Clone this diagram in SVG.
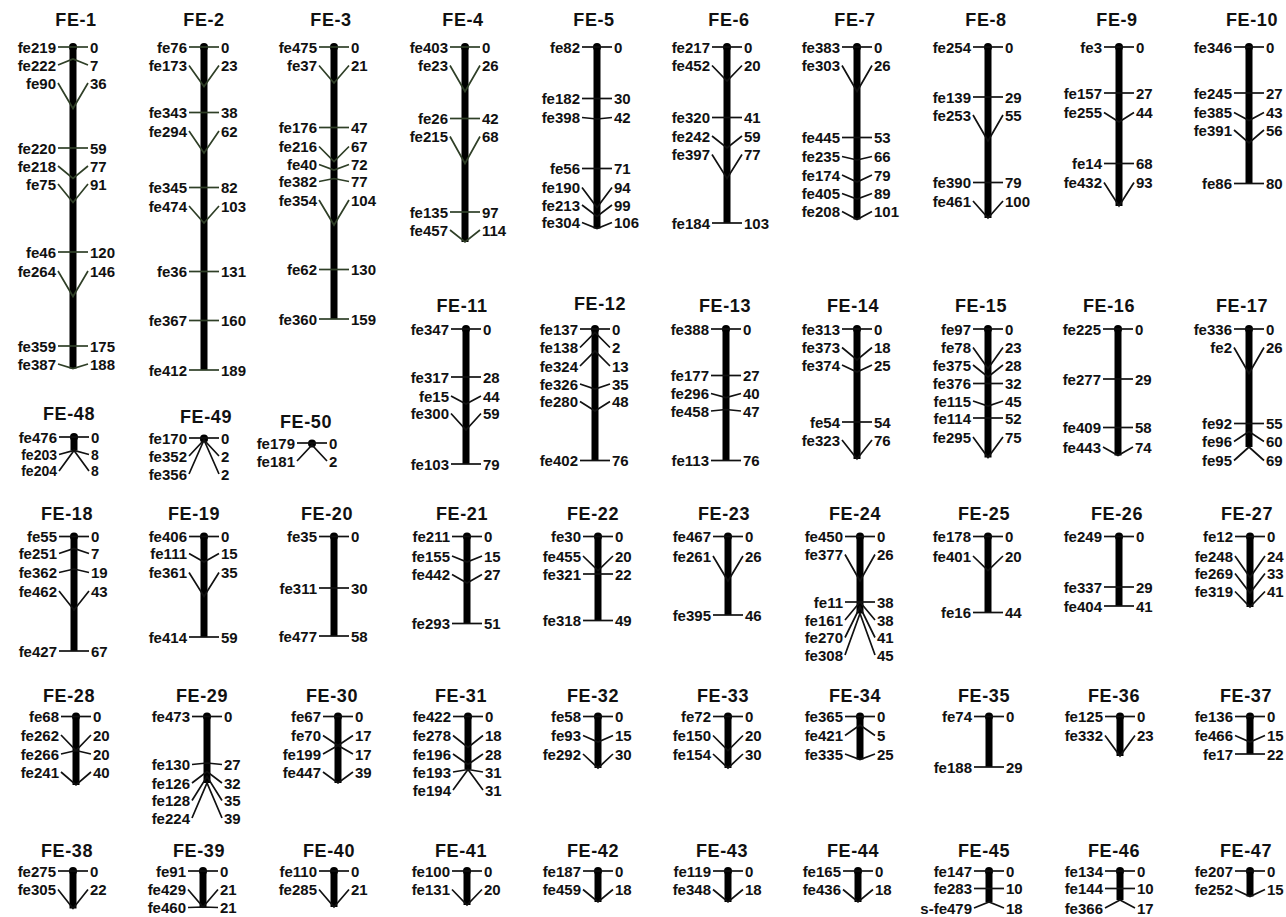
<svg xmlns="http://www.w3.org/2000/svg" width="1286" height="917" viewBox="0 0 1286 917">
<style>
.t{font:bold 18px "Liberation Sans",Arial,sans-serif;text-anchor:middle;letter-spacing:0.6px;fill:#111}
.l,.r{font:bold 15px "Liberation Sans",Arial,sans-serif;fill:#111}
.l{text-anchor:end}
.r{text-anchor:start}
.s{font-size:14px}
.bar{stroke:#000;stroke-width:7}
.ln polyline{fill:none;stroke:#111;stroke-width:1.7}
.gn polyline{stroke:#2f3f27}
</style>
<rect width="1286" height="917" fill="#fff"/>

<g id="FE-1" transform="translate(73,0)">
<text class="t" x="3" y="26">FE-1</text>
<line class="bar" x1="0" y1="47" x2="0" y2="368.5"/><circle cx="0" cy="47" r="4"/>
<g class="ln gn">
<polyline points="-15,47 0,47 15,47"/><polyline points="-15,65 0,59 15,65"/><polyline points="-15,83 0,108.5 15,83"/><polyline points="-15,148 0,148 15,148"/><polyline points="-15,166 0,178.5 15,166"/><polyline points="-15,184 0,202.5 15,184"/><polyline points="-15,252 0,252 15,252"/><polyline points="-15,271 0,296.5 15,271"/><polyline points="-15,346 0,346 15,346"/><polyline points="-15,364 0,368.5 15,364"/>
</g>
<text class="l" x="-17" y="52.5">fe219</text><text class="r" x="17" y="52.5">0</text>
<text class="l" x="-17" y="70.5">fe222</text><text class="r" x="17" y="70.5">7</text>
<text class="l" x="-17" y="88.5">fe90</text><text class="r" x="17" y="88.5">36</text>
<text class="l" x="-17" y="153.5">fe220</text><text class="r" x="17" y="153.5">59</text>
<text class="l" x="-17" y="171.5">fe218</text><text class="r" x="17" y="171.5">77</text>
<text class="l" x="-17" y="189.5">fe75</text><text class="r" x="17" y="189.5">91</text>
<text class="l" x="-17" y="257.5">fe46</text><text class="r" x="17" y="257.5">120</text>
<text class="l" x="-17" y="276.5">fe264</text><text class="r" x="17" y="276.5">146</text>
<text class="l" x="-17" y="351.5">fe359</text><text class="r" x="17" y="351.5">175</text>
<text class="l" x="-17" y="369.5">fe387</text><text class="r" x="17" y="369.5">188</text>
</g>

<g id="FE-2" transform="translate(204,0)">
<text class="t" x="0" y="26">FE-2</text>
<line class="bar" x1="0" y1="47" x2="0" y2="370"/><circle cx="0" cy="47" r="4"/>
<g class="ln gn">
<polyline points="-15,47 0,47 15,47"/><polyline points="-15,65.5 0,86.5 15,65.5"/><polyline points="-15,112.5 0,112.5 15,112.5"/><polyline points="-15,131 0,153 15,131"/><polyline points="-15,187.5 0,187.5 15,187.5"/><polyline points="-15,206 0,223 15,206"/><polyline points="-15,271.5 0,271.5 15,271.5"/><polyline points="-15,320.5 0,320.5 15,320.5"/><polyline points="-15,370 0,370 15,370"/>
</g>
<text class="l" x="-17" y="52.5">fe76</text><text class="r" x="17" y="52.5">0</text>
<text class="l" x="-17" y="71">fe173</text><text class="r" x="17" y="71">23</text>
<text class="l" x="-17" y="118">fe343</text><text class="r" x="17" y="118">38</text>
<text class="l" x="-17" y="136.5">fe294</text><text class="r" x="17" y="136.5">62</text>
<text class="l" x="-17" y="193">fe345</text><text class="r" x="17" y="193">82</text>
<text class="l" x="-17" y="211.5">fe474</text><text class="r" x="17" y="211.5">103</text>
<text class="l" x="-17" y="277">fe36</text><text class="r" x="17" y="277">131</text>
<text class="l" x="-17" y="326">fe367</text><text class="r" x="17" y="326">160</text>
<text class="l" x="-17" y="375.5">fe412</text><text class="r" x="17" y="375.5">189</text>
</g>

<g id="FE-3" transform="translate(334,0)">
<text class="t" x="-3" y="26">FE-3</text>
<line class="bar" x1="0" y1="47" x2="0" y2="319"/><circle cx="0" cy="47" r="4"/>
<g class="ln gn">
<polyline points="-15,47 0,47 15,47"/><polyline points="-15,65.5 0,83 15,65.5"/><polyline points="-15,127.5 0,127.5 15,127.5"/><polyline points="-15,146.5 0,161.5 15,146.5"/><polyline points="-15,164.5 0,170 15,164.5"/><polyline points="-15,181.5 0,178.5 15,181.5"/><polyline points="-15,200 0,225 15,200"/><polyline points="-15,269.5 0,269.5 15,269.5"/><polyline points="-15,319 0,319 15,319"/>
</g>
<text class="l" x="-17" y="52.5">fe475</text><text class="r" x="17" y="52.5">0</text>
<text class="l" x="-17" y="71">fe37</text><text class="r" x="17" y="71">21</text>
<text class="l" x="-17" y="133">fe176</text><text class="r" x="17" y="133">47</text>
<text class="l" x="-17" y="152">fe216</text><text class="r" x="17" y="152">67</text>
<text class="l" x="-17" y="170">fe40</text><text class="r" x="17" y="170">72</text>
<text class="l" x="-17" y="187">fe382</text><text class="r" x="17" y="187">77</text>
<text class="l" x="-17" y="205.5">fe354</text><text class="r" x="17" y="205.5">104</text>
<text class="l" x="-17" y="275">fe62</text><text class="r" x="17" y="275">130</text>
<text class="l" x="-17" y="324.5">fe360</text><text class="r" x="17" y="324.5">159</text>
</g>

<g id="FE-4" transform="translate(465,0)">
<text class="t" x="-2" y="26">FE-4</text>
<line class="bar" x1="0" y1="47" x2="0" y2="242"/><circle cx="0" cy="47" r="4"/>
<g class="ln gn">
<polyline points="-15,47 0,47 15,47"/><polyline points="-15,65.5 0,91.5 15,65.5"/><polyline points="-15,118.5 0,118.5 15,118.5"/><polyline points="-15,136.5 0,163.5 15,136.5"/><polyline points="-15,212 0,212 15,212"/><polyline points="-15,230 0,242 15,230"/>
</g>
<text class="l" x="-17" y="52.5">fe403</text><text class="r" x="17" y="52.5">0</text>
<text class="l" x="-17" y="71">fe23</text><text class="r" x="17" y="71">26</text>
<text class="l" x="-17" y="124">fe26</text><text class="r" x="17" y="124">42</text>
<text class="l" x="-17" y="142">fe215</text><text class="r" x="17" y="142">68</text>
<text class="l" x="-17" y="217.5">fe135</text><text class="r" x="17" y="217.5">97</text>
<text class="l" x="-17" y="235.5">fe457</text><text class="r" x="17" y="235.5">114</text>
</g>

<g id="FE-5" transform="translate(597,0)">
<text class="t" x="-3" y="26">FE-5</text>
<line class="bar" x1="0" y1="47" x2="0" y2="228.5"/><circle cx="0" cy="47" r="4"/>
<g class="ln">
<polyline points="-15,47 0,47 15,47"/><polyline points="-15,98.5 0,98.5 15,98.5"/><polyline points="-15,117.5 0,119 15,117.5"/><polyline points="-15,168.5 0,168.5 15,168.5"/><polyline points="-15,187.5 0,207.5 15,187.5"/><polyline points="-15,205 0,216.5 15,205"/><polyline points="-15,222.5 0,228.5 15,222.5"/>
</g>
<text class="l" x="-17" y="52.5">fe82</text><text class="r" x="17" y="52.5">0</text>
<text class="l" x="-17" y="104">fe182</text><text class="r" x="17" y="104">30</text>
<text class="l" x="-17" y="123">fe398</text><text class="r" x="17" y="123">42</text>
<text class="l" x="-17" y="174">fe56</text><text class="r" x="17" y="174">71</text>
<text class="l" x="-17" y="193">fe190</text><text class="r" x="17" y="193">94</text>
<text class="l" x="-17" y="210.5">fe213</text><text class="r" x="17" y="210.5">99</text>
<text class="l" x="-17" y="228">fe304</text><text class="r" x="17" y="228">106</text>
</g>

<g id="FE-6" transform="translate(727,0)">
<text class="t" x="2" y="26">FE-6</text>
<line class="bar" x1="0" y1="47" x2="0" y2="223"/><circle cx="0" cy="47" r="4"/>
<g class="ln">
<polyline points="-15,47 0,47 15,47"/><polyline points="-15,65.5 0,81 15,65.5"/><polyline points="-15,117.5 0,117.5 15,117.5"/><polyline points="-15,136 0,148 15,136"/><polyline points="-15,154.5 0,178.5 15,154.5"/><polyline points="-15,223 0,223 15,223"/>
</g>
<text class="l" x="-17" y="52.5">fe217</text><text class="r" x="17" y="52.5">0</text>
<text class="l" x="-17" y="71">fe452</text><text class="r" x="17" y="71">20</text>
<text class="l" x="-17" y="123">fe320</text><text class="r" x="17" y="123">41</text>
<text class="l" x="-17" y="141.5">fe242</text><text class="r" x="17" y="141.5">59</text>
<text class="l" x="-17" y="160">fe397</text><text class="r" x="17" y="160">77</text>
<text class="l" x="-17" y="228.5">fe184</text><text class="r" x="17" y="228.5">103</text>
</g>

<g id="FE-7" transform="translate(857,0)">
<text class="t" x="-2" y="26">FE-7</text>
<line class="bar" x1="0" y1="47" x2="0" y2="219.5"/><circle cx="0" cy="47" r="4"/>
<g class="ln">
<polyline points="-15,47 0,47 15,47"/><polyline points="-15,65.5 0,91.5 15,65.5"/><polyline points="-15,137.5 0,137.5 15,137.5"/><polyline points="-15,156.5 0,160 15,156.5"/><polyline points="-15,175 0,182 15,175"/><polyline points="-15,193.5 0,199 15,193.5"/><polyline points="-15,211.5 0,219.5 15,211.5"/>
</g>
<text class="l" x="-17" y="52.5">fe383</text><text class="r" x="17" y="52.5">0</text>
<text class="l" x="-17" y="71">fe303</text><text class="r" x="17" y="71">26</text>
<text class="l" x="-17" y="143">fe445</text><text class="r" x="17" y="143">53</text>
<text class="l" x="-17" y="162">fe235</text><text class="r" x="17" y="162">66</text>
<text class="l" x="-17" y="180.5">fe174</text><text class="r" x="17" y="180.5">79</text>
<text class="l" x="-17" y="199">fe405</text><text class="r" x="17" y="199">89</text>
<text class="l" x="-17" y="217">fe208</text><text class="r" x="17" y="217">101</text>
</g>

<g id="FE-8" transform="translate(988,0)">
<text class="t" x="-2" y="26">FE-8</text>
<line class="bar" x1="0" y1="47" x2="0" y2="218"/><circle cx="0" cy="47" r="4"/>
<g class="ln">
<polyline points="-15,47 0,47 15,47"/><polyline points="-15,97 0,97 15,97"/><polyline points="-15,115 0,141 15,115"/><polyline points="-15,182.5 0,182.5 15,182.5"/><polyline points="-15,201 0,218 15,201"/>
</g>
<text class="l" x="-17" y="52.5">fe254</text><text class="r" x="17" y="52.5">0</text>
<text class="l" x="-17" y="102.5">fe139</text><text class="r" x="17" y="102.5">29</text>
<text class="l" x="-17" y="120.5">fe253</text><text class="r" x="17" y="120.5">55</text>
<text class="l" x="-17" y="188">fe390</text><text class="r" x="17" y="188">79</text>
<text class="l" x="-17" y="206.5">fe461</text><text class="r" x="17" y="206.5">100</text>
</g>

<g id="FE-9" transform="translate(1119,0)">
<text class="t" x="-2" y="26">FE-9</text>
<line class="bar" x1="0" y1="47" x2="0" y2="206"/><circle cx="0" cy="47" r="4"/>
<g class="ln">
<polyline points="-15,47 0,47 15,47"/><polyline points="-15,93 0,93 15,93"/><polyline points="-15,112.5 0,122 15,112.5"/><polyline points="-15,163.5 0,163.5 15,163.5"/><polyline points="-15,182.5 0,206 15,182.5"/>
</g>
<text class="l" x="-17" y="52.5">fe3</text><text class="r" x="17" y="52.5">0</text>
<text class="l" x="-17" y="98.5">fe157</text><text class="r" x="17" y="98.5">27</text>
<text class="l" x="-17" y="118">fe255</text><text class="r" x="17" y="118">44</text>
<text class="l" x="-17" y="169">fe14</text><text class="r" x="17" y="169">68</text>
<text class="l" x="-17" y="188">fe432</text><text class="r" x="17" y="188">93</text>
</g>

<g id="FE-10" transform="translate(1249,0)">
<text class="t" x="3" y="26">FE-10</text>
<line class="bar" x1="0" y1="47" x2="0" y2="183.5"/><circle cx="0" cy="47" r="4"/>
<g class="ln">
<polyline points="-15,47 0,47 15,47"/><polyline points="-15,93 0,93 15,93"/><polyline points="-15,112.5 0,120.5 15,112.5"/><polyline points="-15,130 0,143 15,130"/><polyline points="-15,183.5 0,183.5 15,183.5"/>
</g>
<text class="l" x="-17" y="52.5">fe346</text><text class="r" x="17" y="52.5">0</text>
<text class="l" x="-17" y="98.5">fe245</text><text class="r" x="17" y="98.5">27</text>
<text class="l" x="-17" y="118">fe385</text><text class="r" x="17" y="118">43</text>
<text class="l" x="-17" y="135.5">fe391</text><text class="r" x="17" y="135.5">56</text>
<text class="l" x="-17" y="189">fe86</text><text class="r" x="17" y="189">80</text>
</g>

<g id="FE-11" transform="translate(466,0)">
<text class="t" x="-4" y="311.5">FE-11</text>
<line class="bar" x1="0" y1="329" x2="0" y2="464"/><circle cx="0" cy="329" r="4"/>
<g class="ln">
<polyline points="-15,329 0,329 15,329"/><polyline points="-15,377 0,377 15,377"/><polyline points="-15,396 0,404 15,396"/><polyline points="-15,413.5 0,430 15,413.5"/><polyline points="-15,464 0,464 15,464"/>
</g>
<text class="l" x="-17" y="334.5">fe347</text><text class="r" x="17" y="334.5">0</text>
<text class="l" x="-17" y="382.5">fe317</text><text class="r" x="17" y="382.5">28</text>
<text class="l" x="-17" y="401.5">fe15</text><text class="r" x="17" y="401.5">44</text>
<text class="l" x="-17" y="419">fe300</text><text class="r" x="17" y="419">59</text>
<text class="l" x="-17" y="469.5">fe103</text><text class="r" x="17" y="469.5">79</text>
</g>

<g id="FE-12" transform="translate(595,0)">
<text class="t" x="5" y="309.5">FE-12</text>
<line class="bar" x1="0" y1="329" x2="0" y2="460.5"/><circle cx="0" cy="329" r="4"/>
<g class="ln">
<polyline points="-15,329 0,329 15,329"/><polyline points="-15,347.5 0,332.5 15,347.5"/><polyline points="-15,366 0,351 15,366"/><polyline points="-15,384 0,389 15,384"/><polyline points="-15,401.5 0,411 15,401.5"/><polyline points="-15,460.5 0,460.5 15,460.5"/>
</g>
<text class="l" x="-17" y="334.5">fe137</text><text class="r" x="17" y="334.5">0</text>
<text class="l" x="-17" y="353">fe138</text><text class="r" x="17" y="353">2</text>
<text class="l" x="-17" y="371.5">fe324</text><text class="r" x="17" y="371.5">13</text>
<text class="l" x="-17" y="389.5">fe326</text><text class="r" x="17" y="389.5">35</text>
<text class="l" x="-17" y="407">fe280</text><text class="r" x="17" y="407">48</text>
<text class="l" x="-17" y="466">fe402</text><text class="r" x="17" y="466">76</text>
</g>

<g id="FE-13" transform="translate(726,0)">
<text class="t" x="-1" y="311.5">FE-13</text>
<line class="bar" x1="0" y1="329" x2="0" y2="460.5"/><circle cx="0" cy="329" r="4"/>
<g class="ln">
<polyline points="-15,329 0,329 15,329"/><polyline points="-15,375.5 0,375.5 15,375.5"/><polyline points="-15,393.5 0,397.5 15,393.5"/><polyline points="-15,411 0,409.5 15,411"/><polyline points="-15,460.5 0,460.5 15,460.5"/>
</g>
<text class="l" x="-17" y="334.5">fe388</text><text class="r" x="17" y="334.5">0</text>
<text class="l" x="-17" y="381">fe177</text><text class="r" x="17" y="381">27</text>
<text class="l" x="-17" y="399">fe296</text><text class="r" x="17" y="399">40</text>
<text class="l" x="-17" y="416.5">fe458</text><text class="r" x="17" y="416.5">47</text>
<text class="l" x="-17" y="466">fe113</text><text class="r" x="17" y="466">76</text>
</g>

<g id="FE-14" transform="translate(857,0)">
<text class="t" x="-4" y="311.5">FE-14</text>
<line class="bar" x1="0" y1="329" x2="0" y2="459"/><circle cx="0" cy="329" r="4"/>
<g class="ln">
<polyline points="-15,329 0,329 15,329"/><polyline points="-15,347.5 0,360 15,347.5"/><polyline points="-15,365 0,372 15,365"/><polyline points="-15,422 0,422 15,422"/><polyline points="-15,440 0,459 15,440"/>
</g>
<text class="l" x="-17" y="334.5">fe313</text><text class="r" x="17" y="334.5">0</text>
<text class="l" x="-17" y="353">fe373</text><text class="r" x="17" y="353">18</text>
<text class="l" x="-17" y="370.5">fe374</text><text class="r" x="17" y="370.5">25</text>
<text class="l" x="-17" y="427.5">fe54</text><text class="r" x="17" y="427.5">54</text>
<text class="l" x="-17" y="445.5">fe323</text><text class="r" x="17" y="445.5">76</text>
</g>

<g id="FE-15" transform="translate(988,0)">
<text class="t" x="-7" y="311.5">FE-15</text>
<line class="bar" x1="0" y1="329" x2="0" y2="457.5"/><circle cx="0" cy="329" r="4"/>
<g class="ln">
<polyline points="-15,329 0,329 15,329"/><polyline points="-15,347.5 0,368.5 15,347.5"/><polyline points="-15,365 0,377 15,365"/><polyline points="-15,383.5 0,383.5 15,383.5"/><polyline points="-15,401 0,406 15,401"/><polyline points="-15,418 0,418 15,418"/><polyline points="-15,437 0,457.5 15,437"/>
</g>
<text class="l" x="-17" y="334.5">fe97</text><text class="r" x="17" y="334.5">0</text>
<text class="l" x="-17" y="353">fe78</text><text class="r" x="17" y="353">23</text>
<text class="l" x="-17" y="370.5">fe375</text><text class="r" x="17" y="370.5">28</text>
<text class="l" x="-17" y="389">fe376</text><text class="r" x="17" y="389">32</text>
<text class="l" x="-17" y="406.5">fe115</text><text class="r" x="17" y="406.5">45</text>
<text class="l" x="-17" y="423.5">fe114</text><text class="r" x="17" y="423.5">52</text>
<text class="l" x="-17" y="442.5">fe295</text><text class="r" x="17" y="442.5">75</text>
</g>

<g id="FE-16" transform="translate(1118,0)">
<text class="t" x="-9" y="311.5">FE-16</text>
<line class="bar" x1="0" y1="329" x2="0" y2="455.5"/><circle cx="0" cy="329" r="4"/>
<g class="ln">
<polyline points="-15,329 0,329 15,329"/><polyline points="-15,379 0,379 15,379"/><polyline points="-15,427.5 0,427.5 15,427.5"/><polyline points="-15,447 0,455.5 15,447"/>
</g>
<text class="l" x="-17" y="334.5">fe225</text><text class="r" x="17" y="334.5">0</text>
<text class="l" x="-17" y="384.5">fe277</text><text class="r" x="17" y="384.5">29</text>
<text class="l" x="-17" y="433">fe409</text><text class="r" x="17" y="433">58</text>
<text class="l" x="-17" y="452.5">fe443</text><text class="r" x="17" y="452.5">74</text>
</g>

<g id="FE-17" transform="translate(1249,0)">
<text class="t" x="-7" y="311.5">FE-17</text>
<line class="bar" x1="0" y1="329" x2="0" y2="447"/><circle cx="0" cy="329" r="4"/>
<g class="ln">
<polyline points="-15,329 0,329 15,329"/><polyline points="-15,347.5 0,373.5 15,347.5"/><polyline points="-15,423.5 0,423.5 15,423.5"/><polyline points="-15,441.5 0,431.5 15,441.5"/><polyline points="-15,460.5 0,447 15,460.5"/>
</g>
<text class="l" x="-17" y="334.5">fe336</text><text class="r" x="17" y="334.5">0</text>
<text class="l" x="-17" y="353">fe2</text><text class="r" x="17" y="353">26</text>
<text class="l" x="-17" y="429">fe92</text><text class="r" x="17" y="429">55</text>
<text class="l" x="-17" y="447">fe96</text><text class="r" x="17" y="447">60</text>
<text class="l" x="-17" y="466">fe95</text><text class="r" x="17" y="466">69</text>
</g>

<g id="FE-48" transform="translate(74,0)">
<text class="t" x="-5" y="419.5">FE-48</text>
<line class="bar" x1="0" y1="437" x2="0" y2="450.5"/><circle cx="0" cy="437" r="4"/>
<g class="ln">
<polyline points="-15,437 0,437 15,437"/><polyline points="-15,454.5 0,450.5 15,454.5"/><polyline points="-15,471 0,450.5 15,471"/>
</g>
<text class="l" x="-17" y="442.5">fe476</text><text class="r" x="17" y="442.5">0</text>
<text class="l s" x="-17" y="459.5">fe203</text><text class="r s" x="17" y="459.5">8</text>
<text class="l s" x="-17" y="476">fe204</text><text class="r s" x="17" y="476">8</text>
</g>

<g id="FE-49" transform="translate(204,0)">
<text class="t" x="2" y="423">FE-49</text>
<line class="bar" x1="0" y1="438" x2="0" y2="441.5"/><circle cx="0" cy="438.5" r="4"/>
<g class="ln">
<polyline points="-15,438 0,438 15,438"/><polyline points="-15,456 0,440 15,456"/><polyline points="-15,474 0,440 15,474"/>
</g>
<text class="l" x="-17" y="443.5">fe170</text><text class="r" x="17" y="443.5">0</text>
<text class="l" x="-17" y="461.5">fe352</text><text class="r" x="17" y="461.5">2</text>
<text class="l" x="-17" y="479.5">fe356</text><text class="r" x="17" y="479.5">2</text>
</g>

<g id="FE-50" transform="translate(312,0)">
<text class="t" x="-6" y="428">FE-50</text>
<circle cx="0" cy="443.5" r="4"/>
<g class="ln">
<polyline points="-15,443 0,443 15,443"/><polyline points="-15,461 0,445 15,461"/>
</g>
<text class="l" x="-17" y="448.5">fe179</text><text class="r" x="17" y="448.5">0</text>
<text class="l" x="-17" y="466.5">fe181</text><text class="r" x="17" y="466.5">2</text>
</g>

<g id="FE-18" transform="translate(74,0)">
<text class="t" x="-7" y="519.5">FE-18</text>
<line class="bar" x1="0" y1="536.5" x2="0" y2="651"/><circle cx="0" cy="536.5" r="4"/>
<g class="ln">
<polyline points="-15,536.5 0,536.5 15,536.5"/><polyline points="-15,553.5 0,548.5 15,553.5"/><polyline points="-15,572.5 0,569 15,572.5"/><polyline points="-15,591 0,610 15,591"/><polyline points="-15,651 0,651 15,651"/>
</g>
<text class="l" x="-17" y="542">fe55</text><text class="r" x="17" y="542">0</text>
<text class="l" x="-17" y="559">fe251</text><text class="r" x="17" y="559">7</text>
<text class="l" x="-17" y="578">fe362</text><text class="r" x="17" y="578">19</text>
<text class="l" x="-17" y="596.5">fe462</text><text class="r" x="17" y="596.5">43</text>
<text class="l" x="-17" y="656.5">fe427</text><text class="r" x="17" y="656.5">67</text>
</g>

<g id="FE-19" transform="translate(204,0)">
<text class="t" x="-10" y="519.5">FE-19</text>
<line class="bar" x1="0" y1="536.5" x2="0" y2="637"/><circle cx="0" cy="536.5" r="4"/>
<g class="ln">
<polyline points="-15,536.5 0,536.5 15,536.5"/><polyline points="-15,553.5 0,562 15,553.5"/><polyline points="-15,572.5 0,596.5 15,572.5"/><polyline points="-15,637 0,637 15,637"/>
</g>
<text class="l" x="-17" y="542">fe406</text><text class="r" x="17" y="542">0</text>
<text class="l" x="-17" y="559">fe111</text><text class="r" x="17" y="559">15</text>
<text class="l" x="-17" y="578">fe361</text><text class="r" x="17" y="578">35</text>
<text class="l" x="-17" y="642.5">fe414</text><text class="r" x="17" y="642.5">59</text>
</g>

<g id="FE-20" transform="translate(334,0)">
<text class="t" x="-7" y="519.5">FE-20</text>
<line class="bar" x1="0" y1="536.5" x2="0" y2="636"/><circle cx="0" cy="536.5" r="4"/>
<g class="ln">
<polyline points="-15,536.5 0,536.5 15,536.5"/><polyline points="-15,588 0,588 15,588"/><polyline points="-15,636 0,636 15,636"/>
</g>
<text class="l" x="-17" y="542">fe35</text><text class="r" x="17" y="542">0</text>
<text class="l" x="-17" y="593.5">fe311</text><text class="r" x="17" y="593.5">30</text>
<text class="l" x="-17" y="641.5">fe477</text><text class="r" x="17" y="641.5">58</text>
</g>

<g id="FE-21" transform="translate(467,0)">
<text class="t" x="-5" y="519.5">FE-21</text>
<line class="bar" x1="0" y1="536.5" x2="0" y2="623.5"/><circle cx="0" cy="536.5" r="4"/>
<g class="ln">
<polyline points="-15,536.5 0,536.5 15,536.5"/><polyline points="-15,556 0,562 15,556"/><polyline points="-15,574.5 0,583 15,574.5"/><polyline points="-15,623.5 0,623.5 15,623.5"/>
</g>
<text class="l" x="-17" y="542">fe211</text><text class="r" x="17" y="542">0</text>
<text class="l" x="-17" y="561.5">fe155</text><text class="r" x="17" y="561.5">15</text>
<text class="l" x="-17" y="580">fe442</text><text class="r" x="17" y="580">27</text>
<text class="l" x="-17" y="629">fe293</text><text class="r" x="17" y="629">51</text>
</g>

<g id="FE-22" transform="translate(598,0)">
<text class="t" x="-5" y="519.5">FE-22</text>
<line class="bar" x1="0" y1="536.5" x2="0" y2="620.5"/><circle cx="0" cy="536.5" r="4"/>
<g class="ln">
<polyline points="-15,536.5 0,536.5 15,536.5"/><polyline points="-15,556 0,570.5 15,556"/><polyline points="-15,574 0,574 15,574"/><polyline points="-15,620.5 0,620.5 15,620.5"/>
</g>
<text class="l" x="-17" y="542">fe30</text><text class="r" x="17" y="542">0</text>
<text class="l" x="-17" y="561.5">fe455</text><text class="r" x="17" y="561.5">20</text>
<text class="l" x="-17" y="579.5">fe321</text><text class="r" x="17" y="579.5">22</text>
<text class="l" x="-17" y="626">fe318</text><text class="r" x="17" y="626">49</text>
</g>

<g id="FE-23" transform="translate(728,0)">
<text class="t" x="-4" y="519.5">FE-23</text>
<line class="bar" x1="0" y1="536.5" x2="0" y2="615"/><circle cx="0" cy="536.5" r="4"/>
<g class="ln">
<polyline points="-15,536.5 0,536.5 15,536.5"/><polyline points="-15,556 0,581 15,556"/><polyline points="-15,615 0,615 15,615"/>
</g>
<text class="l" x="-17" y="542">fe467</text><text class="r" x="17" y="542">0</text>
<text class="l" x="-17" y="561.5">fe261</text><text class="r" x="17" y="561.5">26</text>
<text class="l" x="-17" y="620.5">fe395</text><text class="r" x="17" y="620.5">46</text>
</g>

<g id="FE-24" transform="translate(860,0)">
<text class="t" x="-5" y="519.5">FE-24</text>
<line class="bar" x1="0" y1="536.5" x2="0" y2="613.5"/><circle cx="0" cy="536.5" r="4"/>
<g class="ln">
<polyline points="-15,536.5 0,536.5 15,536.5"/><polyline points="-15,554.5 0,581 15,554.5"/><polyline points="-15,602 0,602 15,602"/><polyline points="-15,620 0,602 15,620"/><polyline points="-15,637.5 0,607 15,637.5"/><polyline points="-15,655 0,613.5 15,655"/>
</g>
<text class="l" x="-17" y="542">fe450</text><text class="r" x="17" y="542">0</text>
<text class="l" x="-17" y="560">fe377</text><text class="r" x="17" y="560">26</text>
<text class="l" x="-17" y="607.5">fe11</text><text class="r" x="17" y="607.5">38</text>
<text class="l" x="-17" y="625.5">fe161</text><text class="r" x="17" y="625.5">38</text>
<text class="l" x="-17" y="643">fe270</text><text class="r" x="17" y="643">41</text>
<text class="l" x="-17" y="660.5">fe308</text><text class="r" x="17" y="660.5">45</text>
</g>

<g id="FE-25" transform="translate(988,0)">
<text class="t" x="-4" y="519.5">FE-25</text>
<line class="bar" x1="0" y1="536.5" x2="0" y2="612.5"/><circle cx="0" cy="536.5" r="4"/>
<g class="ln">
<polyline points="-15,536.5 0,536.5 15,536.5"/><polyline points="-15,556 0,570.5 15,556"/><polyline points="-15,612.5 0,612.5 15,612.5"/>
</g>
<text class="l" x="-17" y="542">fe178</text><text class="r" x="17" y="542">0</text>
<text class="l" x="-17" y="561.5">fe401</text><text class="r" x="17" y="561.5">20</text>
<text class="l" x="-17" y="618">fe16</text><text class="r" x="17" y="618">44</text>
</g>

<g id="FE-26" transform="translate(1119,0)">
<text class="t" x="-2" y="519.5">FE-26</text>
<line class="bar" x1="0" y1="536.5" x2="0" y2="606"/><circle cx="0" cy="536.5" r="4"/>
<g class="ln">
<polyline points="-15,536.5 0,536.5 15,536.5"/><polyline points="-15,587 0,587 15,587"/><polyline points="-15,606 0,606 15,606"/>
</g>
<text class="l" x="-17" y="542">fe249</text><text class="r" x="17" y="542">0</text>
<text class="l" x="-17" y="592.5">fe337</text><text class="r" x="17" y="592.5">29</text>
<text class="l" x="-17" y="611.5">fe404</text><text class="r" x="17" y="611.5">41</text>
</g>

<g id="FE-27" transform="translate(1250,0)">
<text class="t" x="-3" y="519.5">FE-27</text>
<line class="bar" x1="0" y1="536.5" x2="0" y2="607"/><circle cx="0" cy="536.5" r="4"/>
<g class="ln">
<polyline points="-15,536.5 0,536.5 15,536.5"/><polyline points="-15,556 0,577.5 15,556"/><polyline points="-15,573.5 0,593 15,573.5"/><polyline points="-15,591.5 0,607 15,591.5"/>
</g>
<text class="l" x="-17" y="542">fe12</text><text class="r" x="17" y="542">0</text>
<text class="l" x="-17" y="561.5">fe248</text><text class="r" x="17" y="561.5">24</text>
<text class="l" x="-17" y="579">fe269</text><text class="r" x="17" y="579">33</text>
<text class="l" x="-17" y="597">fe319</text><text class="r" x="17" y="597">41</text>
</g>

<g id="FE-28" transform="translate(76,0)">
<text class="t" x="-7" y="701.5">FE-28</text>
<line class="bar" x1="0" y1="716.5" x2="0" y2="785"/><circle cx="0" cy="716.5" r="4"/>
<g class="ln">
<polyline points="-15,716.5 0,716.5 15,716.5"/><polyline points="-15,735 0,750.5 15,735"/><polyline points="-15,754 0,750.5 15,754"/><polyline points="-15,772 0,785 15,772"/>
</g>
<text class="l" x="-17" y="722">fe68</text><text class="r" x="17" y="722">0</text>
<text class="l" x="-17" y="740.5">fe262</text><text class="r" x="17" y="740.5">20</text>
<text class="l" x="-17" y="759.5">fe266</text><text class="r" x="17" y="759.5">20</text>
<text class="l" x="-17" y="777.5">fe241</text><text class="r" x="17" y="777.5">40</text>
</g>

<g id="FE-29" transform="translate(207,0)">
<text class="t" x="-5" y="701.5">FE-29</text>
<line class="bar" x1="0" y1="716.5" x2="0" y2="783"/><circle cx="0" cy="716.5" r="4"/>
<g class="ln">
<polyline points="-15,716.5 0,716.5 15,716.5"/><polyline points="-15,764.5 0,763 15,764.5"/><polyline points="-15,783 0,771.5 15,783"/><polyline points="-15,800.5 0,776.5 15,800.5"/><polyline points="-15,818 0,783 15,818"/>
</g>
<text class="l" x="-17" y="722">fe473</text><text class="r" x="17" y="722">0</text>
<text class="l" x="-17" y="770">fe130</text><text class="r" x="17" y="770">27</text>
<text class="l" x="-17" y="788.5">fe126</text><text class="r" x="17" y="788.5">32</text>
<text class="l" x="-17" y="806">fe128</text><text class="r" x="17" y="806">35</text>
<text class="l" x="-17" y="823.5">fe224</text><text class="r" x="17" y="823.5">39</text>
</g>

<g id="FE-30" transform="translate(338,0)">
<text class="t" x="-6" y="701.5">FE-30</text>
<line class="bar" x1="0" y1="716.5" x2="0" y2="783"/><circle cx="0" cy="716.5" r="4"/>
<g class="ln">
<polyline points="-15,716.5 0,716.5 15,716.5"/><polyline points="-15,735.5 0,745.5 15,754"/><polyline points="-15,754 0,745.5 15,735.5"/><polyline points="-15,772 0,783 15,772"/>
</g>
<text class="l" x="-17" y="722">fe67</text><text class="r" x="17" y="722">0</text>
<text class="l" x="-17" y="741">fe70</text><text class="r" x="17" y="741">17</text>
<text class="l" x="-17" y="759.5">fe199</text><text class="r" x="17" y="759.5">17</text>
<text class="l" x="-17" y="777.5">fe447</text><text class="r" x="17" y="777.5">39</text>
</g>

<g id="FE-31" transform="translate(468,0)">
<text class="t" x="-7" y="701.5">FE-31</text>
<line class="bar" x1="0" y1="716.5" x2="0" y2="769.5"/><circle cx="0" cy="716.5" r="4"/>
<g class="ln">
<polyline points="-15,716.5 0,716.5 15,716.5"/><polyline points="-15,735.5 0,747.5 15,735.5"/><polyline points="-15,754 0,764.5 15,754"/><polyline points="-15,772 0,769.5 15,772"/><polyline points="-15,790 0,769.5 15,790"/>
</g>
<text class="l" x="-17" y="722">fe422</text><text class="r" x="17" y="722">0</text>
<text class="l" x="-17" y="741">fe278</text><text class="r" x="17" y="741">18</text>
<text class="l" x="-17" y="759.5">fe196</text><text class="r" x="17" y="759.5">28</text>
<text class="l" x="-17" y="777.5">fe193</text><text class="r" x="17" y="777.5">31</text>
<text class="l" x="-17" y="795.5">fe194</text><text class="r" x="17" y="795.5">31</text>
</g>

<g id="FE-32" transform="translate(598,0)">
<text class="t" x="-5" y="701.5">FE-32</text>
<line class="bar" x1="0" y1="716.5" x2="0" y2="768"/><circle cx="0" cy="716.5" r="4"/>
<g class="ln">
<polyline points="-15,716.5 0,716.5 15,716.5"/><polyline points="-15,735.5 0,742 15,735.5"/><polyline points="-15,754 0,768 15,754"/>
</g>
<text class="l" x="-17" y="722">fe58</text><text class="r" x="17" y="722">0</text>
<text class="l" x="-17" y="741">fe93</text><text class="r" x="17" y="741">15</text>
<text class="l" x="-17" y="759.5">fe292</text><text class="r" x="17" y="759.5">30</text>
</g>

<g id="FE-33" transform="translate(728,0)">
<text class="t" x="-5" y="701.5">FE-33</text>
<line class="bar" x1="0" y1="716.5" x2="0" y2="768"/><circle cx="0" cy="716.5" r="4"/>
<g class="ln">
<polyline points="-15,716.5 0,716.5 15,716.5"/><polyline points="-15,735.5 0,750.5 15,735.5"/><polyline points="-15,754 0,768 15,754"/>
</g>
<text class="l" x="-17" y="722">fe72</text><text class="r" x="17" y="722">0</text>
<text class="l" x="-17" y="741">fe150</text><text class="r" x="17" y="741">20</text>
<text class="l" x="-17" y="759.5">fe154</text><text class="r" x="17" y="759.5">30</text>
</g>

<g id="FE-34" transform="translate(860,0)">
<text class="t" x="-5" y="701.5">FE-34</text>
<line class="bar" x1="0" y1="716.5" x2="0" y2="759.5"/><circle cx="0" cy="716.5" r="4"/>
<g class="ln">
<polyline points="-15,716.5 0,716.5 15,716.5"/><polyline points="-15,735.5 0,725 15,735.5"/><polyline points="-15,754 0,759.5 15,754"/>
</g>
<text class="l" x="-17" y="722">fe365</text><text class="r" x="17" y="722">0</text>
<text class="l" x="-17" y="741">fe421</text><text class="r" x="17" y="741">5</text>
<text class="l" x="-17" y="759.5">fe335</text><text class="r" x="17" y="759.5">25</text>
</g>

<g id="FE-35" transform="translate(989,0)">
<text class="t" x="-5" y="701.5">FE-35</text>
<line class="bar" x1="0" y1="716.5" x2="0" y2="767"/><circle cx="0" cy="716.5" r="4"/>
<g class="ln">
<polyline points="-15,716.5 0,716.5 15,716.5"/><polyline points="-15,767 0,767 15,767"/>
</g>
<text class="l" x="-17" y="722">fe74</text><text class="r" x="17" y="722">0</text>
<text class="l" x="-17" y="772.5">fe188</text><text class="r" x="17" y="772.5">29</text>
</g>

<g id="FE-36" transform="translate(1120,0)">
<text class="t" x="-6" y="701.5">FE-36</text>
<line class="bar" x1="0" y1="716.5" x2="0" y2="756"/><circle cx="0" cy="716.5" r="4"/>
<g class="ln">
<polyline points="-15,716.5 0,716.5 15,716.5"/><polyline points="-15,735.5 0,756 15,735.5"/>
</g>
<text class="l" x="-17" y="722">fe125</text><text class="r" x="17" y="722">0</text>
<text class="l" x="-17" y="741">fe332</text><text class="r" x="17" y="741">23</text>
</g>

<g id="FE-37" transform="translate(1250,0)">
<text class="t" x="-4" y="701.5">FE-37</text>
<line class="bar" x1="0" y1="716.5" x2="0" y2="754"/><circle cx="0" cy="716.5" r="4"/>
<g class="ln">
<polyline points="-15,716.5 0,716.5 15,716.5"/><polyline points="-15,735.5 0,742 15,735.5"/><polyline points="-15,754 0,754 15,754"/>
</g>
<text class="l" x="-17" y="722">fe136</text><text class="r" x="17" y="722">0</text>
<text class="l" x="-17" y="741">fe466</text><text class="r" x="17" y="741">15</text>
<text class="l" x="-17" y="759.5">fe17</text><text class="r" x="17" y="759.5">22</text>
</g>

<g id="FE-38" transform="translate(73,0)">
<text class="t" x="-6" y="856.5">FE-38</text>
<line class="bar" x1="0" y1="871" x2="0" y2="908.5"/><circle cx="0" cy="871" r="4"/>
<g class="ln">
<polyline points="-15,871 0,871 15,871"/><polyline points="-15,889.5 0,908.5 15,889.5"/>
</g>
<text class="l" x="-17" y="876.5">fe275</text><text class="r" x="17" y="876.5">0</text>
<text class="l" x="-17" y="895">fe305</text><text class="r" x="17" y="895">22</text>
</g>

<g id="FE-39" transform="translate(203,0)">
<text class="t" x="-4" y="856.5">FE-39</text>
<line class="bar" x1="0" y1="871" x2="0" y2="907"/><circle cx="0" cy="871" r="4"/>
<g class="ln">
<polyline points="-15,871 0,871 15,871"/><polyline points="-15,889.5 0,907 15,889.5"/><polyline points="-15,907.5 0,907 15,907.5"/>
</g>
<text class="l" x="-17" y="876.5">fe91</text><text class="r" x="17" y="876.5">0</text>
<text class="l" x="-17" y="895">fe429</text><text class="r" x="17" y="895">21</text>
<text class="l" x="-17" y="913">fe460</text><text class="r" x="17" y="913">21</text>
</g>

<g id="FE-40" transform="translate(334,0)">
<text class="t" x="-5" y="856.5">FE-40</text>
<line class="bar" x1="0" y1="871" x2="0" y2="907"/><circle cx="0" cy="871" r="4"/>
<g class="ln">
<polyline points="-15,871 0,871 15,871"/><polyline points="-15,889.5 0,907 15,889.5"/>
</g>
<text class="l" x="-17" y="876.5">fe110</text><text class="r" x="17" y="876.5">0</text>
<text class="l" x="-17" y="895">fe285</text><text class="r" x="17" y="895">21</text>
</g>

<g id="FE-41" transform="translate(467,0)">
<text class="t" x="-6" y="856.5">FE-41</text>
<line class="bar" x1="0" y1="871" x2="0" y2="905"/><circle cx="0" cy="871" r="4"/>
<g class="ln">
<polyline points="-15,871 0,871 15,871"/><polyline points="-15,889.5 0,905 15,889.5"/>
</g>
<text class="l" x="-17" y="876.5">fe100</text><text class="r" x="17" y="876.5">0</text>
<text class="l" x="-17" y="895">fe131</text><text class="r" x="17" y="895">20</text>
</g>

<g id="FE-42" transform="translate(598,0)">
<text class="t" x="-5" y="856.5">FE-42</text>
<line class="bar" x1="0" y1="871" x2="0" y2="902"/><circle cx="0" cy="871" r="4"/>
<g class="ln">
<polyline points="-15,871 0,871 15,871"/><polyline points="-15,889.5 0,902 15,889.5"/>
</g>
<text class="l" x="-17" y="876.5">fe187</text><text class="r" x="17" y="876.5">0</text>
<text class="l" x="-17" y="895">fe459</text><text class="r" x="17" y="895">18</text>
</g>

<g id="FE-43" transform="translate(728,0)">
<text class="t" x="-6" y="856.5">FE-43</text>
<line class="bar" x1="0" y1="871" x2="0" y2="902"/><circle cx="0" cy="871" r="4"/>
<g class="ln">
<polyline points="-15,871 0,871 15,871"/><polyline points="-15,889.5 0,902 15,889.5"/>
</g>
<text class="l" x="-17" y="876.5">fe119</text><text class="r" x="17" y="876.5">0</text>
<text class="l" x="-17" y="895">fe348</text><text class="r" x="17" y="895">18</text>
</g>

<g id="FE-44" transform="translate(858,0)">
<text class="t" x="-5" y="856.5">FE-44</text>
<line class="bar" x1="0" y1="871" x2="0" y2="902"/><circle cx="0" cy="871" r="4"/>
<g class="ln">
<polyline points="-15,871 0,871 15,871"/><polyline points="-15,889.5 0,902 15,889.5"/>
</g>
<text class="l" x="-17" y="876.5">fe165</text><text class="r" x="17" y="876.5">0</text>
<text class="l" x="-17" y="895">fe436</text><text class="r" x="17" y="895">18</text>
</g>

<g id="FE-45" transform="translate(989,0)">
<text class="t" x="-5" y="856.5">FE-45</text>
<line class="bar" x1="0" y1="871" x2="0" y2="902"/><circle cx="0" cy="871" r="4"/>
<g class="ln">
<polyline points="-15,871 0,871 15,871"/><polyline points="-15,888.5 0,888.5 15,888.5"/><polyline points="-15,908 0,902 15,908"/>
</g>
<text class="l" x="-17" y="876.5">fe147</text><text class="r" x="17" y="876.5">0</text>
<text class="l" x="-17" y="894">fe283</text><text class="r" x="17" y="894">10</text>
<text class="l" x="-17" y="913.5">s-fe479</text><text class="r" x="17" y="913.5">18</text>
</g>

<g id="FE-46" transform="translate(1120,0)">
<text class="t" x="-6" y="856.5">FE-46</text>
<line class="bar" x1="0" y1="871" x2="0" y2="900"/><circle cx="0" cy="871" r="4"/>
<g class="ln">
<polyline points="-15,871 0,871 15,871"/><polyline points="-15,888.5 0,888.5 15,888.5"/><polyline points="-15,908 0,900 15,908"/>
</g>
<text class="l" x="-17" y="876.5">fe134</text><text class="r" x="17" y="876.5">0</text>
<text class="l" x="-17" y="894">fe144</text><text class="r" x="17" y="894">10</text>
<text class="l" x="-17" y="913.5">fe366</text><text class="r" x="17" y="913.5">17</text>
</g>

<g id="FE-47" transform="translate(1250,0)">
<text class="t" x="-4" y="856.5">FE-47</text>
<line class="bar" x1="0" y1="871" x2="0" y2="896.5"/><circle cx="0" cy="871" r="4"/>
<g class="ln">
<polyline points="-15,871 0,871 15,871"/><polyline points="-15,889.5 0,896.5 15,889.5"/>
</g>
<text class="l" x="-17" y="876.5">fe207</text><text class="r" x="17" y="876.5">0</text>
<text class="l" x="-17" y="895">fe252</text><text class="r" x="17" y="895">15</text>
</g>
</svg>
